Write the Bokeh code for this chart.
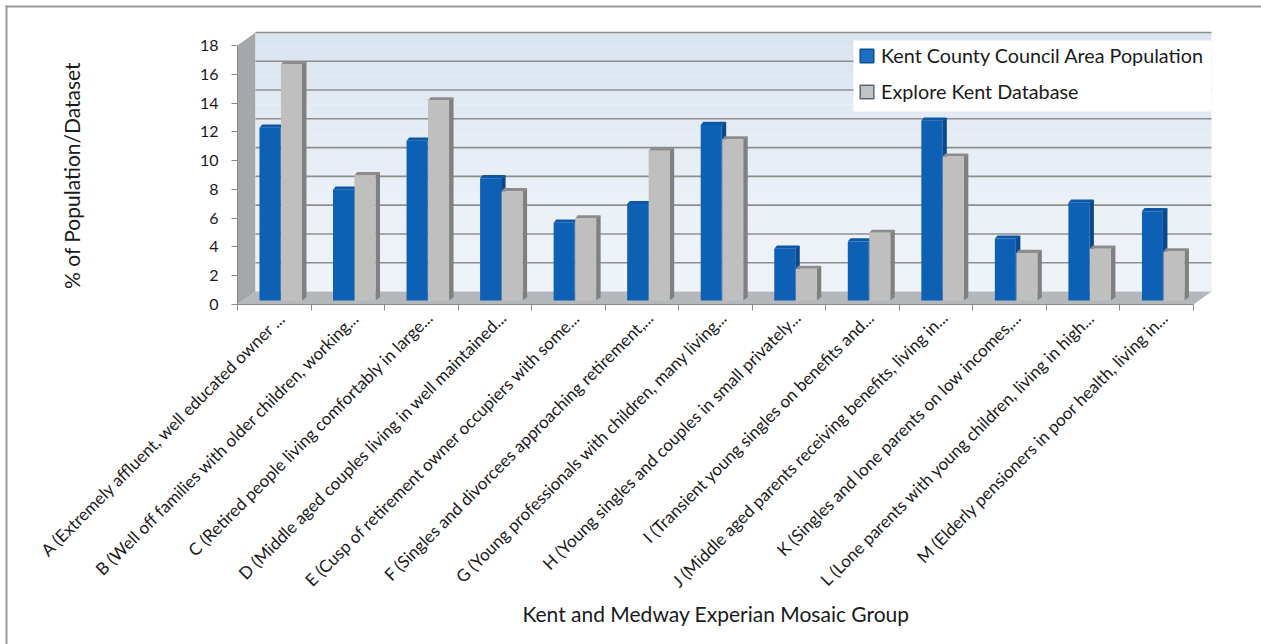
import math
from bokeh.plotting import figure
from bokeh.core.properties import value
from bokeh.models import FixedTicker, Legend, LegendItem, Range1d
from bokeh.embed import file_html
from bokeh.resources import INLINE

categories = [
    "A (Extremely affluent, well educated owner ...",
    "B (Well off families with older children, working...",
    "C (Retired people living comfortably in large...",
    "D (Middle aged couples living in well maintained...",
    "E (Cusp of retirement owner occupiers with some...",
    "F (Singles and divorcees approaching retirement,...",
    "G (Young professionals with children, many living...",
    "H (Young singles and couples in small privately...",
    "I (Transient young singles on benefits and...",
    "J (Middle aged parents receiving benefits, living in...",
    "K (Singles and lone parents on low incomes,...",
    "L (Lone parents with young children, living in high...",
    "M (Elderly pensioners in poor health, living in...",
]
kent_population = [12.0, 7.7, 11.1, 8.5, 5.4, 6.7, 12.2, 3.6, 4.1, 12.5, 4.3, 6.8, 6.2]
explore_kent = [16.4, 8.7, 13.9, 7.6, 5.7, 10.4, 11.2, 2.2, 4.7, 10.0, 3.3, 3.6, 3.4]
y_ticks = list(range(0, 19, 2))
series_names = ["Kent County Council Area Population", "Explore Kent Database"]
y_title = "% of Population/Dataset"
x_title = "Kent and Medway Experian Mosaic Group"

FONT = "Lato"
INK = "#1a1a1a"
PX_X, PX_Y = 73.54, 14.39           # pixels per data unit
W, H = 1261, 644
AX_L, AX_B = 237, 304               # page position of the front axes
DX, DY = 18 / PX_X, 13 / PX_Y       # depth of the floor/wall
BW = 21 / PX_X                      # bar width
BASE = 4 / PX_Y                     # bars stand a little behind the front edge
SX, SY = 4.5 / PX_X, 3.2 / PX_Y     # depth of each bar
OFF_BLUE, OFF_GREY = -4.3 / PX_X, 17.2 / PX_X
LABEL_SHIFT = 0.11

xs = list(range(len(categories)))
x0, x1 = -0.5, len(categories) - 0.5

def dx(px):
    return x0 + (px - AX_L) / PX_X

def dy(py):
    return (AX_B - py) / PX_Y

p = figure(width=W, height=H, output_backend="svg", toolbar_location=None,
           x_range=Range1d(dx(0), dx(W)), y_range=Range1d(dy(H), dy(0)),
           min_border=0, min_border_left=0, min_border_right=0, min_border_top=0, min_border_bottom=0)
p.outline_line_color = None
p.grid.visible = False

# edge of the chart area: top and left only
p.segment(x0=[dx(5), dx(6)], y0=[dy(6), dy(5)], x1=[dx(W), dx(6)], y1=[dy(6), dy(H)],
          line_color="#9a9a9a", line_width=2)

# swatch sources for the legend; they sit behind the back wall
sw1 = p.vbar(x=[9.0], width=0.05, bottom=[15.0], top=[15.5], fill_color="#1a6fc0", line_color="#0f4f8f", line_width=1.5)
sw2 = p.vbar(x=[9.0], width=0.05, bottom=[14.0], top=[14.5], fill_color="#c4c4c4", line_color="#55687a", line_width=1.5)

# side wall, back wall (banded gradient), floor
p.patch([x0, x0 + DX, x0 + DX, x0], [0, DY, 18 + DY, 18], fill_color="#a5a8aa", line_color=None)
n = 18
def mix(a, b, t):
    return "#%02x%02x%02x" % tuple(round(a[i] + (b[i] - a[i]) * t) for i in range(3))
p.quad(left=x0 + DX, right=x1 + DX,
       bottom=[DY + i for i in range(n)], top=[DY + i + 1 for i in range(n)],
       fill_color=[mix((238, 243, 249), (218, 228, 239), (i / (n - 1)) ** 1.5) for i in range(n)],
       line_color=None)
p.patch([x0, x1, x1 + DX, x0 + DX], [0, 0, DY, DY], fill_color="#b4b8bb", line_color=None)
p.segment(x0=x0 + DX, x1=x1 + DX, y0=[DY + t for t in y_ticks[1:]], y1=[DY + t for t in y_ticks[1:]],
          line_color="#8e8e8e", line_width=1.6)

def bars(values, off, front, top, side):
    cx = [i + off for i in xs]
    lx = [c - BW / 2 for c in cx]
    rx = [c + BW / 2 for c in cx]
    ty = [v + BASE for v in values]
    # side faces
    p.patches([[r, r + SX, r + SX, r] for r in rx],
              [[BASE, BASE + SY, t + SY, t] for t in ty],
              fill_color=side, line_color=None)
    # top faces
    p.patches([[l, l + SX * 0.6, r + SX * 0.8, r + SX, r] for l, r in zip(lx, rx)],
              [[t, t + SY, t + SY, t + SY * 0.4, t] for t in ty],
              fill_color=top, line_color=None)
    p.vbar(x=cx, width=BW, bottom=BASE, top=ty, fill_color=front, line_color=None)

bars(kent_population, OFF_BLUE, "#0e60b4", "#0c57a6", "#0a4a8c")
bars(explore_kent, OFF_GREY, "#bfbfbf", "#8c8c8c", "#808080")

# axes, fixed to the front edges of the 3-D box
yax = p.yaxis[0]
yax.fixed_location = x0
yax.ticker = FixedTicker(ticks=y_ticks)
yax.bounds = (0, 18)
yax.major_label_text_font = FONT
yax.major_label_text_font_size = "16px"
yax.major_label_text_color = INK
yax.major_label_standoff = 13
yax.major_tick_in = 0
yax.major_tick_out = 6
yax.minor_tick_in = 0
yax.minor_tick_out = 0
yax.axis_line_color = "#8a8a8a"
yax.major_tick_line_color = "#8a8a8a"

label_ticks = [round(i + LABEL_SHIFT, 2) for i in xs]
xax = p.xaxis[0]
xax.fixed_location = 0
xax.ticker = FixedTicker(ticks=label_ticks, minor_ticks=[i - 0.5 for i in range(len(categories) + 1)])
xax.bounds = (x0, x1)
xax.major_label_overrides = {t: c for t, c in zip(label_ticks, categories)}
xax.major_label_orientation = math.pi / 4
xax.major_label_text_font = FONT
xax.major_label_text_font_size = "17px"
xax.major_label_text_color = INK
xax.major_label_standoff = 4
xax.major_tick_in = 0
xax.major_tick_out = 0
xax.minor_tick_in = 0
xax.minor_tick_out = 6
xax.minor_tick_line_color = "#8a8a8a"
xax.axis_line_color = "#8a8a8a"

# axis titles, placed off-centre as in the chart
p.text(x=[dx(71)], y=[dy(175)], text=[y_title], angle=math.pi / 2, text_align="center",
       text_baseline="middle", text_font=value(FONT), text_font_size="21px", text_color=INK)
p.text(x=[dx(715.5)], y=[dy(613)], text=[x_title], text_align="center",
       text_baseline="middle", text_font=value(FONT), text_font_size="21px", text_color=INK)

# legend with its white panel
p.quad(left=dx(853), right=dx(1211), bottom=dy(111), top=dy(40), fill_color="white", line_color=None)
legend = Legend(items=[LegendItem(label=series_names[0], renderers=[sw1]),
                       LegendItem(label=series_names[1], renderers=[sw2])],
                location=(858, H - 103), orientation="vertical",
                background_fill_alpha=0, border_line_color=None,
                label_text_font=FONT, label_text_font_size="19.75px",
                label_text_color=INK, glyph_width=17, glyph_height=17,
                label_height=20, spacing=13, margin=0, padding=0, label_standoff=6)
p.add_layout(legend, "center")

open("out.html", "w").write(file_html(p, INLINE))
